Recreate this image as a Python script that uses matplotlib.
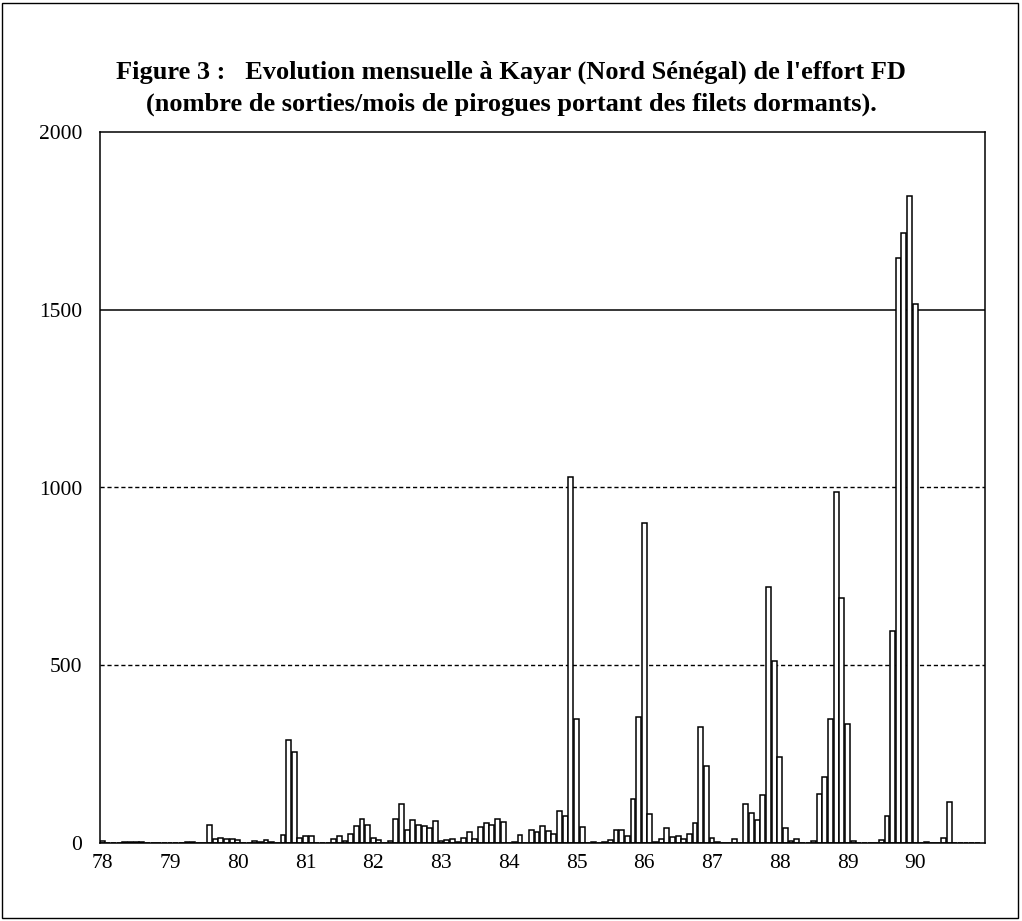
import numpy as np
import matplotlib
matplotlib.use("Agg")
import matplotlib.pyplot as plt
from matplotlib.patches import Rectangle

# Monthly FD effort at Kayar (sorties/month), Jan..Dec for each year
years = [78, 79, 80, 81, 82, 83, 84, 85, 86, 87, 88, 89, 90]
effort_78 = [5, 0, 0, 0, 3, 4, 3, 3, 0, 0, 0, 0]
effort_79 = [0, 0, 0, 2, 2, 0, 0, 52, 10, 15, 12, 10]
effort_80 = [9, 0, 0, 6, 3, 9, 4, 0, 22, 289, 256, 15]
effort_81 = [21, 21, 0, 0, 0, 12, 19, 6, 26, 48, 68, 52]
effort_82 = [14, 8, 0, 6, 68, 109, 36, 66, 50, 47, 43, 62]
effort_83 = [5, 8, 11, 4, 15, 31, 11, 45, 56, 50, 68, 58]
effort_84 = [1, 2, 23, 0, 37, 32, 48, 33, 24, 89, 77, 1030]
effort_85 = [350, 44, 0, 2, 1, 2, 9, 37, 37, 19, 125, 355]
effort_86 = [900, 82, 3, 12, 43, 17, 19, 12, 24, 56, 325, 217]
effort_87 = [15, 3, 0, 0, 11, 0, 110, 83, 66, 135, 720, 511]
effort_88 = [243, 41, 5, 11, 0, 0, 7, 137, 187, 350, 987, 690]
effort_89 = [335, 6, 0, 0, 0, 0, 9, 75, 595, 1645, 1715, 1820]
effort_90 = [1515, 0, 3, 0, 0, 15, 115, 0, 0, 0, 0, 0]

yearly = [effort_78, effort_79, effort_80, effort_81, effort_82, effort_83,
          effort_84, effort_85, effort_86, effort_87, effort_88, effort_89,
          effort_90]

values = np.concatenate(yearly)
months = years[0] + np.arange(len(values)) / 12.0

serif = ['Liberation Serif', 'DejaVu Serif']

fig = plt.figure(figsize=(10.22, 9.21), dpi=100)
ax = fig.add_axes([100 / 1022, 78 / 921, 885 / 1022, 711 / 921])

# reference lines (drawn under the bars)
ax.axhline(500, color='black', lw=1.0, ls=(0, (3, 2)), zorder=1)
ax.axhline(1000, color='black', lw=1.0, ls=(0, (3, 2)), zorder=1)
ax.axhline(1500, color='black', lw=1.1, zorder=1)

ax.bar(months, values, width=0.072, color='white', edgecolor='black',
       linewidth=1.1, zorder=2)

ax.set_xlim(77.966, 91.03)
ax.set_ylim(0, 2000)
ax.set_xticks(years)
ax.set_xticklabels([str(y) for y in years], fontfamily=serif, fontsize=15.5)
ax.set_yticks([0, 500, 1000, 1500, 2000])
ax.set_yticklabels(['0', '500', '1000', '1500', '2000'], fontfamily=serif,
                   fontsize=15.5)
ax.tick_params(axis='both', length=0)
ax.tick_params(axis='y', pad=13)
ax.tick_params(axis='x', pad=8)
for s in ax.spines.values():
    s.set_linewidth(1.1)

fig.text(0.5, 1 - 72 / 921,
         "Figure 3 :   Evolution mensuelle à Kayar (Nord Sénégal) de l'effort FD",
         ha='center', va='center', fontfamily=serif, fontweight='bold',
         fontsize=19)
fig.text(0.5, 1 - 104 / 921,
         "(nombre de sorties/mois de pirogues portant des filets dormants).",
         ha='center', va='center', fontfamily=serif, fontweight='bold',
         fontsize=19)

# outer frame round the whole figure
fig.patches.append(Rectangle((2 / 1022, 3 / 921), 1016 / 1022, 915 / 921,
                             transform=fig.transFigure, fill=False,
                             edgecolor='black', linewidth=1.0))

fig.savefig('out.png', dpi=100)
